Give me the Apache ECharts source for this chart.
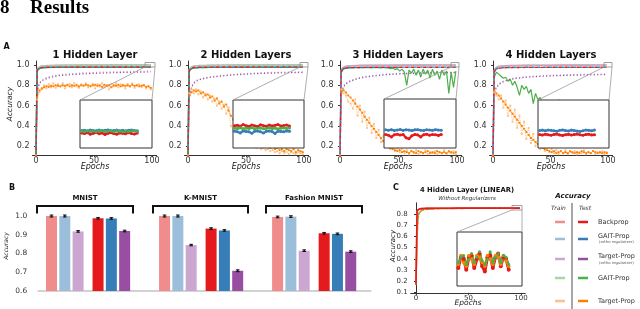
<!DOCTYPE html>
<html><head><meta charset="utf-8">
<script src="https://cdn.jsdelivr.net/npm/echarts@6/dist/echarts.min.js"></script>
<style>html,body{margin:0;padding:0;background:#fff}#c{width:640px;height:309px}</style>
</head><body><div id="c"></div>
<script>
// ---------- DATA ----------
const EPOCHS = [0,1,2,3,4,6,8,10,15,20,30,40,50,60,70,80,90,99];
const NOISY_EPOCHS = [0,1,3,5,7,9,11,13,15,17,19,21,23,25,27,29,31,33,35,37,39,41,43,45,47,49,51,53,55,57,59,61,63,65,67,69,71,73,75,77,79,81,83,85,87,89,91,93,95,97,99];
const INSET_EPOCHS = [80,81,82,83,84,85,86,87,88,89,90,91,92,93,94,95,96,97,98,99];
const X_TICKS = [0,50,100];
const Y_TICKS_A = [0.2,0.4,0.6,0.8,1.0];

// Subplot 1 (1 hidden layer)
const bpTrain1 = [0.10,0.955,0.975,0.983,0.987,0.991,0.993,0.994,0.996,0.997,0.998,0.999,0.999,0.999,1.000,1.000,1.000,1.000];
const bpTest1 = [0.10,0.945,0.963,0.970,0.973,0.976,0.977,0.978,0.979,0.980,0.980,0.981,0.981,0.981,0.981,0.981,0.981,0.981];
const gaitOTrain1 = [0.10,0.950,0.972,0.981,0.985,0.989,0.991,0.993,0.995,0.996,0.997,0.998,0.998,0.999,0.999,0.999,0.999,0.999];
const gaitOTest1 = [0.10,0.940,0.960,0.968,0.972,0.975,0.976,0.977,0.978,0.979,0.979,0.980,0.980,0.980,0.980,0.980,0.980,0.980];
const gaitTrain1 = [0.10,0.945,0.970,0.980,0.984,0.988,0.990,0.992,0.994,0.995,0.996,0.997,0.998,0.998,0.998,0.999,0.999,0.999];
const gaitTest1 = [0.10,0.935,0.958,0.967,0.971,0.974,0.975,0.976,0.977,0.978,0.978,0.979,0.979,0.979,0.979,0.979,0.979,0.979];
const tpOTrain1 = [0.10,0.72,0.79,0.83,0.845,0.86,0.87,0.88,0.895,0.905,0.915,0.922,0.927,0.931,0.934,0.936,0.938,0.940];
const tpOTest1 = [0.10,0.70,0.78,0.82,0.835,0.85,0.86,0.87,0.885,0.895,0.905,0.912,0.918,0.922,0.925,0.928,0.930,0.932];
const tpTest1 = [0.11,0.68,0.75,0.77,0.78,0.79,0.785,0.795,0.79,0.80,0.795,0.79,0.80,0.795,0.805,0.79,0.80,0.795,0.805,0.79,0.80,0.795,0.805,0.80,0.79,0.80,0.805,0.795,0.80,0.785,0.805,0.795,0.80,0.78,0.80,0.795,0.805,0.79,0.80,0.795,0.80,0.79,0.805,0.795,0.80,0.79,0.795,0.80,0.785,0.79,0.775];
const tpTrain1 = [0.11,0.66,0.73,0.76,0.80,0.77,0.81,0.78,0.82,0.775,0.81,0.79,0.82,0.77,0.80,0.815,0.78,0.82,0.79,0.775,0.81,0.80,0.82,0.78,0.795,0.815,0.77,0.81,0.79,0.82,0.78,0.805,0.76,0.815,0.79,0.82,0.78,0.81,0.795,0.77,0.815,0.79,0.82,0.775,0.80,0.81,0.78,0.805,0.77,0.79,0.76];
const inset1Red = [0.9725,0.9720,0.9728,0.9715,0.9722,0.9730,0.9718,0.9725,0.9712,0.9722,0.9728,0.9720,0.9715,0.9726,0.9722,0.9718,0.9728,0.9721,0.9716,0.9724];
const inset1Blue = [0.9745,0.9748,0.9742,0.9750,0.9746,0.9743,0.9749,0.9744,0.9747,0.9751,0.9743,0.9746,0.9749,0.9744,0.9748,0.9742,0.9747,0.9750,0.9745,0.9743];
const inset1Green = [0.9740,0.9736,0.9744,0.9738,0.9742,0.9735,0.9741,0.9746,0.9737,0.9740,0.9744,0.9736,0.9742,0.9739,0.9735,0.9743,0.9738,0.9741,0.9744,0.9737];

// Subplot 2 (2 hidden layers)
const bpTrain2 = [0.10,0.950,0.973,0.982,0.986,0.990,0.992,0.994,0.996,0.997,0.998,0.999,0.999,0.999,1.000,1.000,1.000,1.000];
const bpTest2 = [0.10,0.940,0.962,0.970,0.973,0.976,0.977,0.978,0.979,0.980,0.981,0.981,0.981,0.982,0.982,0.982,0.982,0.982];
const gaitOTrain2 = [0.10,0.945,0.970,0.980,0.984,0.988,0.990,0.992,0.994,0.996,0.997,0.998,0.998,0.998,0.999,0.999,0.999,0.999];
const gaitOTest2 = [0.10,0.935,0.958,0.966,0.970,0.973,0.975,0.976,0.977,0.978,0.978,0.978,0.979,0.979,0.979,0.979,0.979,0.979];
const gaitTrain2 = [0.10,0.940,0.968,0.978,0.983,0.987,0.989,0.991,0.993,0.995,0.996,0.997,0.997,0.998,0.998,0.998,0.998,0.998];
const gaitTest2 = [0.10,0.930,0.956,0.965,0.969,0.972,0.974,0.975,0.976,0.977,0.977,0.978,0.978,0.978,0.978,0.978,0.978,0.978];
const tpOTrain2 = [0.10,0.66,0.73,0.78,0.81,0.84,0.852,0.862,0.876,0.886,0.899,0.909,0.916,0.922,0.926,0.929,0.931,0.933];
const tpOTest2 = [0.10,0.65,0.72,0.77,0.80,0.83,0.845,0.855,0.87,0.88,0.893,0.903,0.91,0.916,0.92,0.923,0.925,0.927];
const tpTest2 = [0.11,0.70,0.73,0.75,0.74,0.75,0.72,0.73,0.70,0.71,0.68,0.69,0.65,0.67,0.62,0.64,0.59,0.61,0.55,0.50,0.46,0.42,0.38,0.36,0.33,0.31,0.29,0.27,0.26,0.24,0.23,0.22,0.21,0.20,0.19,0.20,0.18,0.19,0.17,0.18,0.16,0.17,0.15,0.17,0.16,0.15,0.17,0.14,0.16,0.15,0.14];
const tpTrain2 = [0.11,0.72,0.76,0.72,0.76,0.71,0.74,0.68,0.72,0.66,0.70,0.64,0.67,0.60,0.64,0.57,0.61,0.52,0.58,0.40,0.35,0.33,0.30,0.28,0.26,0.24,0.23,0.21,0.20,0.19,0.18,0.19,0.17,0.18,0.16,0.17,0.15,0.16,0.14,0.15,0.13,0.15,0.13,0.14,0.12,0.14,0.13,0.12,0.14,0.13,0.12];
const inset2Red = [0.9785,0.9790,0.9782,0.9795,0.9786,0.9780,0.9792,0.9785,0.9779,0.9793,0.9786,0.9781,0.9791,0.9784,0.9789,0.9795,0.9783,0.9787,0.9792,0.9784];
const inset2Green = [0.9765,0.9762,0.9768,0.9760,0.9766,0.9763,0.9769,0.9761,0.9765,0.9767,0.9760,0.9764,0.9768,0.9762,0.9766,0.9759,0.9765,0.9768,0.9763,0.9766];
const inset2Blue = [0.9740,0.9736,0.9725,0.9742,0.9738,0.9735,0.9722,0.9740,0.9741,0.9736,0.9724,0.9739,0.9742,0.9737,0.9721,0.9740,0.9738,0.9735,0.9742,0.9739];

// Subplot 3 (3 hidden layers)
const bpTrain3 = [0.10,0.945,0.970,0.980,0.985,0.989,0.991,0.993,0.995,0.997,0.998,0.998,0.999,0.999,0.999,1.000,1.000,1.000];
const bpTest3 = [0.10,0.930,0.955,0.964,0.968,0.972,0.974,0.975,0.976,0.977,0.978,0.978,0.978,0.979,0.979,0.979,0.979,0.979];
const gaitOTrain3 = [0.10,0.940,0.968,0.979,0.984,0.988,0.990,0.992,0.994,0.996,0.997,0.998,0.998,0.999,0.999,0.999,0.999,0.999];
const gaitOTest3 = [0.10,0.935,0.957,0.966,0.970,0.973,0.975,0.976,0.977,0.978,0.979,0.979,0.979,0.980,0.980,0.980,0.980,0.980];
const tpOTrain3 = [0.10,0.71,0.76,0.79,0.81,0.83,0.843,0.853,0.872,0.885,0.899,0.911,0.918,0.923,0.926,0.928,0.930,0.931];
const tpOTest3 = [0.10,0.70,0.75,0.78,0.80,0.82,0.835,0.845,0.865,0.878,0.893,0.905,0.912,0.917,0.920,0.922,0.924,0.925];
const gaitTest3 = [0.11,0.93,0.96,0.97,0.972,0.975,0.973,0.976,0.974,0.975,0.973,0.976,0.974,0.975,0.972,0.976,0.974,0.975,0.973,0.976,0.972,0.974,0.965,0.97,0.955,0.965,0.94,0.96,0.93,0.80,0.95,0.92,0.96,0.90,0.95,0.88,0.96,0.91,0.95,0.87,0.96,0.90,0.94,0.86,0.95,0.90,0.94,0.72,0.93,0.78,0.94];
const tpTest3 = [0.11,0.74,0.75,0.73,0.70,0.68,0.65,0.62,0.59,0.56,0.53,0.49,0.46,0.43,0.40,0.37,0.34,0.31,0.28,0.25,0.23,0.20,0.18,0.17,0.16,0.15,0.16,0.14,0.15,0.14,0.13,0.15,0.14,0.13,0.15,0.14,0.13,0.14,0.15,0.13,0.14,0.13,0.15,0.14,0.13,0.14,0.13,0.15,0.14,0.13,0.14];
const tpTrain3 = [0.11,0.76,0.72,0.70,0.64,0.62,0.57,0.66,0.50,0.60,0.44,0.54,0.38,0.48,0.33,0.42,0.28,0.36,0.24,0.30,0.20,0.25,0.17,0.21,0.15,0.18,0.14,0.17,0.13,0.16,0.12,0.15,0.13,0.16,0.12,0.14,0.13,0.16,0.12,0.14,0.13,0.15,0.12,0.14,0.13,0.16,0.12,0.14,0.13,0.15,0.12];
const inset3Blue = [0.9748,0.9745,0.9750,0.9743,0.9747,0.9751,0.9744,0.9749,0.9746,0.9742,0.9748,0.9750,0.9745,0.9743,0.9749,0.9747,0.9744,0.9750,0.9746,0.9745];
const inset3Red = [0.9710,0.9705,0.9690,0.9708,0.9712,0.9706,0.9710,0.9683,0.9675,0.9700,0.9711,0.9707,0.9690,0.9709,0.9712,0.9705,0.9710,0.9708,0.9703,0.9711];

// Subplot 4 (4 hidden layers)
const bpTrain4 = [0.10,0.940,0.966,0.978,0.983,0.988,0.990,0.992,0.994,0.996,0.997,0.998,0.998,0.999,0.999,0.999,1.000,1.000];
const bpTest4 = [0.10,0.925,0.950,0.960,0.965,0.970,0.972,0.974,0.975,0.976,0.977,0.977,0.978,0.978,0.978,0.978,0.978,0.978];
const gaitOTrain4 = [0.10,0.935,0.964,0.977,0.982,0.987,0.989,0.991,0.993,0.995,0.997,0.998,0.998,0.998,0.999,0.999,0.999,0.999];
const gaitOTest4 = [0.10,0.930,0.954,0.963,0.967,0.971,0.973,0.975,0.976,0.977,0.978,0.979,0.979,0.979,0.979,0.979,0.979,0.979];
const tpOTrain4 = [0.10,0.71,0.76,0.79,0.80,0.82,0.836,0.846,0.864,0.874,0.886,0.894,0.899,0.903,0.906,0.908,0.910,0.911];
const tpOTest4 = [0.10,0.70,0.75,0.78,0.795,0.815,0.83,0.84,0.858,0.868,0.880,0.888,0.893,0.897,0.900,0.902,0.904,0.905];
const gaitTest4 = [0.11,0.88,0.93,0.91,0.89,0.87,0.88,0.84,0.86,0.80,0.84,0.78,0.70,0.80,0.76,0.79,0.72,0.76,0.62,0.72,0.66,0.68,0.60,0.64,0.58,0.62,0.56,0.60,0.54,0.66,0.50,0.52,0.48,0.50,0.45,0.47,0.42,0.44,0.40,0.41,0.37,0.38,0.35,0.36,0.33,0.34,0.31,0.32,0.29,0.30,0.27];
const tpTest4 = [0.11,0.75,0.72,0.70,0.67,0.64,0.61,0.58,0.55,0.52,0.49,0.46,0.43,0.40,0.37,0.34,0.31,0.28,0.26,0.24,0.22,0.20,0.18,0.17,0.16,0.15,0.14,0.15,0.13,0.14,0.15,0.13,0.14,0.13,0.15,0.14,0.13,0.14,0.13,0.15,0.14,0.13,0.14,0.13,0.15,0.14,0.13,0.14,0.13,0.14,0.13];
const tpTrain4 = [0.11,0.73,0.70,0.66,0.70,0.58,0.65,0.50,0.60,0.44,0.56,0.38,0.50,0.32,0.44,0.27,0.38,0.23,0.32,0.20,0.28,0.17,0.23,0.15,0.19,0.14,0.17,0.13,0.16,0.12,0.15,0.13,0.16,0.12,0.14,0.13,0.15,0.12,0.14,0.13,0.16,0.12,0.14,0.13,0.15,0.12,0.14,0.13,0.15,0.12,0.14];
const inset4Blue = [0.9745,0.9749,0.9743,0.9750,0.9747,0.9744,0.9740,0.9748,0.9751,0.9745,0.9742,0.9749,0.9746,0.9741,0.9738,0.9744,0.9750,0.9747,0.9743,0.9749];
const inset4Red = [0.9712,0.9708,0.9715,0.9710,0.9706,0.9713,0.9716,0.9709,0.9705,0.9711,0.9714,0.9708,0.9712,0.9716,0.9710,0.9706,0.9712,0.9715,0.9709,0.9711];

// Panel B (final accuracy)
const DATASETS = ['MNIST','K-MNIST','Fashion MNIST'];
const METHODS = ['Backprop','GAIT-Prop (ortho)','Target-Prop (ortho)'];
const trainAcc = [[1.000,1.000,0.918],[1.000,1.000,0.845],[0.995,0.997,0.815]];
const testAcc  = [[0.988,0.987,0.920],[0.933,0.923,0.708],[0.908,0.905,0.810]];
const trainErr = [[0.001,0.001,0.002],[0.001,0.001,0.004],[0.002,0.002,0.002]];
const testErr  = [[0.002,0.002,0.002],[0.002,0.002,0.005],[0.002,0.002,0.002]];
const Y_TICKS_B = [0.6,0.7,0.8,0.9,1.0];

// Panel C (4 hidden layer, linear)
const EPOCHS_C = [0,1,2,3,4,5,6,8,10,15,20,30,40,50,60,70,80,90,99];
const bpTrainC = [0.17,0.825,0.840,0.845,0.848,0.849,0.850,0.851,0.852,0.853,0.853,0.854,0.854,0.854,0.855,0.855,0.855,0.855,0.855];
const bpTestC  = [0.17,0.820,0.838,0.843,0.846,0.847,0.848,0.849,0.850,0.850,0.851,0.851,0.852,0.852,0.852,0.852,0.852,0.852,0.852];
const tpTrainC = [0.17,0.600,0.770,0.810,0.825,0.833,0.838,0.842,0.844,0.847,0.849,0.850,0.851,0.852,0.852,0.852,0.852,0.852,0.852];
const tpTestC  = [0.17,0.580,0.760,0.800,0.820,0.830,0.835,0.840,0.842,0.845,0.847,0.848,0.849,0.850,0.850,0.850,0.850,0.850,0.850];
const gaitTestC= [0.17,0.620,0.780,0.810,0.825,0.833,0.837,0.841,0.843,0.846,0.848,0.849,0.850,0.850,0.851,0.851,0.851,0.851,0.851];
const insetCRed = [0.840,0.846,0.845,0.839,0.846,0.847,0.840,0.845,0.848,0.841,0.838,0.846,0.847,0.840,0.846,0.848,0.841,0.846,0.845,0.839];
const insetCOrange = [0.842,0.847,0.843,0.841,0.847,0.845,0.842,0.847,0.846,0.843,0.841,0.847,0.845,0.842,0.847,0.846,0.842,0.847,0.844,0.841];
const insetCGreen = [0.843,0.846,0.847,0.842,0.845,0.848,0.843,0.846,0.849,0.844,0.842,0.845,0.849,0.843,0.846,0.848,0.843,0.847,0.846,0.842];
const Y_TICKS_C = [0.1,0.2,0.3,0.4,0.5,0.6,0.7,0.8];

// ---------- CHART ----------
const COL = {red:'#e41a1c', redL:'#f18c8d', blue:'#377eb8', blueL:'#9bbfdb', purple:'#984ea3', purpleL:'#cba6d1', green:'#4daf4a', greenL:'#a6d7a4', orange:'#ff7f00', orangeL:'#ffbf80'};
const FF = 'DejaVu Sans';
const AX = '#333';
const grids = [], xAxes = [], yAxes = [], series = [];
function addGrid(g, x, y){ grids.push(g); const i = grids.length-1; x.gridIndex = i; y.gridIndex = i; xAxes.push(x); yAxes.push(y); return i; }
const hidden = {axisLine:{show:false}, axisTick:{show:false}, axisLabel:{show:false}, splitLine:{show:false}};

function mainA(left, width){
  return addGrid({left, top:61, width, height:94.2},
    {type:'value', min:-3, max:104, splitLine:{show:false},
     axisLine:{show:true, lineStyle:{color:AX, width:1}},
     axisTick:{show:true, length:2, customValues:X_TICKS, lineStyle:{color:AX}},
     axisLabel:{customValues:X_TICKS, fontSize:8, color:AX, margin:2, fontFamily:FF}},
    {type:'value', min:0.11, max:1.04, splitLine:{show:false},
     axisLine:{show:true, lineStyle:{color:AX, width:1}},
     axisTick:{show:true, length:2, customValues:Y_TICKS_A, lineStyle:{color:AX}},
     axisLabel:{customValues:Y_TICKS_A, formatter:v=>v.toFixed(1), fontSize:8, color:AX, margin:3, fontFamily:FF}});
}
function insetGrid(left, top, width, height, ymin, ymax){
  return addGrid({left, top, width, height, show:true, backgroundColor:'#fff', borderColor:'#333', borderWidth:1, z:10},
    Object.assign({type:'value', min:79.5, max:104, z:10}, hidden),
    Object.assign({type:'value', min:ymin, max:ymax, z:10}, hidden));
}
function line(gi, xs, ys, color, extra){
  const s = {type:'line', xAxisIndex:gi, yAxisIndex:gi, data:xs.map((x,i)=>[x, ys[i]]),
    symbol:'none', lineStyle:{color, width:1.2}, itemStyle:{color}, z:2, animation:false, silent:true};
  series.push(Object.assign(s, extra||{}));
}
function topCurves(gi, d){
  line(gi, EPOCHS, d.bpTrain, COL.redL, {lineStyle:{color:COL.redL, width:1.6}});
  line(gi, EPOCHS, d.gaitOTrain, COL.blueL, {lineStyle:{color:COL.blueL, width:1.6, type:[3,2]}});
  if (d.gaitTrain) line(gi, EPOCHS, d.gaitTrain, COL.greenL, {lineStyle:{color:COL.greenL, width:1.6, type:[3,2], dashOffset:2}});
  if (d.gaitTest) line(gi, EPOCHS, d.gaitTest, COL.green, {lineStyle:{color:COL.green, width:1.4}});
  line(gi, EPOCHS, d.gaitOTest, COL.blue, {lineStyle:{color:COL.blue, width:1.4, type:[3,3], dashOffset:3}});
  line(gi, EPOCHS, d.bpTest, COL.red, {lineStyle:{color:COL.red, width:1.4, type:[3,3]}});
}
function purple(gi, tr, te){
  line(gi, EPOCHS, tr, COL.purpleL, {lineStyle:{color:COL.purpleL, width:1.2, type:[1.2,2.2]}});
  line(gi, EPOCHS, te, COL.purple, {lineStyle:{color:COL.purple, width:1.2, type:[1.2,2.2], dashOffset:1}});
}
function noisy(gi, ys, color, extra){
  line(gi, NOISY_EPOCHS, ys, color, Object.assign({symbol:'rect', symbolSize:1.9, showSymbol:true, showAllSymbol:true,
    lineStyle:{color, width:0.8, type:[1.5,1]}}, extra||{}));
}
function insetLine(gi, ys, color){
  line(gi, INSET_EPOCHS, ys, color, {z:12, symbol:'circle', symbolSize:3, showSymbol:true, showAllSymbol:true, lineStyle:{color, width:2.2}});
}

// Subplot 1
const g1 = mainA(32.5, 124.1);
noisy(g1, tpTrain1, COL.orangeL); noisy(g1, tpTest1, COL.orange);
purple(g1, tpOTrain1, tpOTest1);
topCurves(g1, {bpTrain:bpTrain1, bpTest:bpTest1, gaitOTrain:gaitOTrain1, gaitOTest:gaitOTest1, gaitTrain:gaitTrain1, gaitTest:gaitTest1});
const i1 = insetGrid(80, 100, 72, 48, 0.96, 1.0);
insetLine(i1, inset1Red, COL.red); insetLine(i1, inset1Blue, COL.blue); insetLine(i1, inset1Green, COL.green);

// Subplot 2
const g2 = mainA(184.5, 124.1);
noisy(g2, tpTrain2, COL.orangeL); noisy(g2, tpTest2, COL.orange);
purple(g2, tpOTrain2, tpOTest2);
topCurves(g2, {bpTrain:bpTrain2, bpTest:bpTest2, gaitOTrain:gaitOTrain2, gaitOTest:gaitOTest2, gaitTrain:gaitTrain2, gaitTest:gaitTest2});
const i2 = insetGrid(233, 100, 71, 48, 0.96, 1.0);
insetLine(i2, inset2Blue, COL.blue); insetLine(i2, inset2Red, COL.red); insetLine(i2, inset2Green, COL.green);

// Subplot 3
const g3 = mainA(336.5, 125.2);
noisy(g3, tpTrain3, COL.orangeL); noisy(g3, tpTest3, COL.orange);
purple(g3, tpOTrain3, tpOTest3);
noisy(g3, gaitTest3, COL.green, {symbol:'none', lineStyle:{color:COL.green, width:1.2}});
topCurves(g3, {bpTrain:bpTrain3, bpTest:bpTest3, gaitOTrain:gaitOTrain3, gaitOTest:gaitOTest3});
const i3 = insetGrid(384, 99, 72, 49, 0.96, 1.0);
insetLine(i3, inset3Red, COL.red); insetLine(i3, inset3Blue, COL.blue);

// Subplot 4
const g4 = mainA(489.55, 123.05);
noisy(g4, tpTrain4, COL.orangeL); noisy(g4, tpTest4, COL.orange);
noisy(g4, gaitTest4, COL.green, {symbol:'none', lineStyle:{color:COL.green, width:1.2}});
purple(g4, tpOTrain4, tpOTest4);
topCurves(g4, {bpTrain:bpTrain4, bpTest:bpTest4, gaitOTrain:gaitOTrain4, gaitOTest:gaitOTest4});
const i4 = insetGrid(538, 100, 71, 48, 0.96, 1.0);
insetLine(i4, inset4Red, COL.red); insetLine(i4, inset4Blue, COL.blue);

// Panel B
const gb = addGrid({left:38.2, top:210.4, width:332.5, height:80.6},
  {type:'value', min:-1, max:24, splitLine:{show:false}, axisTick:{show:false}, axisLabel:{show:false},
   axisLine:{show:true, lineStyle:{color:'#c4c4c4', width:1.5}}},
  {type:'value', min:0.6, max:1.03, splitLine:{show:false}, axisLine:{show:false}, axisTick:{show:false},
   axisLabel:{customValues:Y_TICKS_B, formatter:v=>v.toFixed(1), fontSize:7.5, color:AX, margin:11, fontFamily:FF}});
const trainCols = [COL.redL, COL.blueL, COL.purpleL], testCols = [COL.red, COL.blue, COL.purple];
const barItems = [], errItems = [];
DATASETS.forEach((ds, g) => {
  METHODS.forEach((m, k) => {
    const xt = g*8.5 + k, xs = g*8.5 + 3.5 + k;
    barItems.push({value:[xt, trainAcc[g][k]], itemStyle:{color:trainCols[k]}});
    barItems.push({value:[xs, testAcc[g][k]], itemStyle:{color:testCols[k]}});
    errItems.push([xt, trainAcc[g][k], trainErr[g][k]]);
    errItems.push([xs, testAcc[g][k], testErr[g][k]]);
  });
});
series.push({type:'bar', xAxisIndex:gb, yAxisIndex:gb, data:barItems, barWidth:11, animation:false, silent:true, z:2});
series.push({type:'custom', xAxisIndex:gb, yAxisIndex:gb, data:errItems, animation:false, silent:true, z:5,
  renderItem:(p, api) => {
    const x = api.value(0), y = api.value(1), e = api.value(2);
    const a = api.coord([x, y+e]), b = api.coord([x, y-e]);
    const top = Math.min(a[1], b[1]-1.2), bot = Math.max(b[1], a[1]+1.2);
    return {type:'group', children:[
      {type:'line', shape:{x1:a[0], y1:top, x2:a[0], y2:bot}, style:{stroke:'#111', lineWidth:1.5}},
      {type:'line', shape:{x1:a[0]-1.8, y1:top, x2:a[0]+1.8, y2:top}, style:{stroke:'#111', lineWidth:1}},
      {type:'line', shape:{x1:a[0]-1.8, y1:bot, x2:a[0]+1.8, y2:bot}, style:{stroke:'#111', lineWidth:1}}]};
  }});

// Panel C
const gc = addGrid({left:410.75, top:202.8, width:114.45, height:90.1},
  {type:'value', min:-5, max:104, splitLine:{show:false},
   axisLine:{show:true, lineStyle:{color:AX, width:1}},
   axisTick:{show:true, length:2, customValues:X_TICKS, lineStyle:{color:AX}},
   axisLabel:{customValues:X_TICKS, fontSize:7, color:AX, margin:2, fontFamily:FF}},
  {type:'value', min:0.095, max:0.9, splitLine:{show:false},
   axisLine:{show:true, lineStyle:{color:AX, width:1}},
   axisTick:{show:true, length:2, customValues:Y_TICKS_C, lineStyle:{color:AX}},
   axisLabel:{customValues:Y_TICKS_C, formatter:v=>v.toFixed(1), fontSize:7, color:AX, margin:3, fontFamily:FF}});
line(gc, EPOCHS_C, bpTrainC, COL.redL, {lineStyle:{color:COL.redL, width:1.6}});
line(gc, EPOCHS_C, tpTrainC, COL.orangeL, {lineStyle:{color:COL.orangeL, width:1.6, type:[3,2]}});
line(gc, EPOCHS_C, gaitTestC, COL.green, {lineStyle:{color:COL.green, width:1.4, type:[3,3], dashOffset:3}});
line(gc, EPOCHS_C, tpTestC, COL.orange, {lineStyle:{color:COL.orange, width:1.4, type:[3,3]}});
line(gc, EPOCHS_C, bpTestC, COL.red, {lineStyle:{color:COL.red, width:1.6}});
const ic = addGrid({left:457, top:232, width:65, height:54, show:true, backgroundColor:'#fff', borderColor:'#333', borderWidth:1, z:10},
  Object.assign({type:'value', min:79.5, max:104, z:10}, hidden),
  Object.assign({type:'value', min:0.83, max:0.86, z:10}, hidden));
line(ic, INSET_EPOCHS, insetCRed, COL.red, {z:12, symbol:'circle', symbolSize:4, showSymbol:true, showAllSymbol:true, lineStyle:{color:COL.red, width:3}});
line(ic, INSET_EPOCHS, insetCOrange, COL.orange, {z:12, symbol:'circle', symbolSize:3.5, showSymbol:true, showAllSymbol:true, lineStyle:{color:COL.orange, width:2.5}});
line(ic, INSET_EPOCHS, insetCGreen, COL.green, {z:12, symbol:'circle', symbolSize:3, showSymbol:true, showAllSymbol:true, lineStyle:{color:COL.green, width:2}});

// ---------- GRAPHICS (text & decorations) ----------
const G = [];
function txt(text, x, y, size, opts){
  G.push({type:'text', x, y, z:30, silent:true, style:Object.assign({text, x:0, y:0, fill:'#111', fontSize:size, fontFamily:FF,
    textAlign:'center', textVerticalAlign:'middle'}, opts||{})});
}
function rtxt(text, x, y, size, opts){
  G.push({type:'text', x, y, rotation:Math.PI/2, z:30, silent:true, style:Object.assign({text, x:0, y:0, fill:'#222', fontSize:size, fontFamily:FF,
    fontStyle:'italic', textAlign:'center', textVerticalAlign:'middle'}, opts||{})});
}
function seg(x1,y1,x2,y2,stroke,w,z){ G.push({type:'line', z:z||20, silent:true, shape:{x1,y1,x2,y2}, style:{stroke, lineWidth:w}}); }
function poly(pts, stroke, w){ G.push({type:'polyline', z:20, silent:true, shape:{points:pts}, style:{stroke, lineWidth:w, fill:null}}); }
function rect(x,y,w,h){ G.push({type:'rect', z:20, silent:true, shape:{x,y,width:w,height:h}, style:{stroke:'#888', lineWidth:0.8, fill:null}}); }

// header
txt('8', 0, 8, 19, {fontFamily:'Liberation Serif', fontWeight:'bold', fill:'#000', textAlign:'left'});
txt('Results', 30, 8, 19, {fontFamily:'Liberation Serif', fontWeight:'bold', fill:'#000', textAlign:'left'});

// Panel A
txt('A', 6.5, 47, 8, {fontWeight:'bold'});
txt('1 Hidden Layer', 95, 55, 10, {fontWeight:'bold'});
txt('2 Hidden Layers', 246, 55, 10, {fontWeight:'bold'});
txt('3 Hidden Layers', 398, 55, 10, {fontWeight:'bold'});
txt('4 Hidden Layers', 551, 55, 10, {fontWeight:'bold'});
[95, 246, 398, 551].forEach(x => txt('Epochs', x, 166.5, 8, {fontStyle:'italic', fill:'#222'}));
rtxt('Accuracy', 10, 104, 7.5);
// zoom indicators and connectors
[[145,62.5,10,4.5, 80,100,152,100],[300,62.5,8,4.5, 233,100,304,100],[451,62.5,8,4.5, 384,99,456,99],[604,62.5,8,4.5, 538,100,609,100]].forEach(a => {
  rect(a[0],a[1],a[2],a[3]);
  seg(a[4],a[5], a[0], a[1]+a[3], '#999', 0.8);
  seg(a[6],a[7], a[0]+a[2], a[1]+a[3], '#999', 0.8);
});

// Panel B
txt('B', 12, 188, 8, {fontWeight:'bold'});
rtxt('Accuracy', 6, 246, 6);
[[37,133,'MNIST'],[153,248,'K-MNIST'],[266,362,'Fashion MNIST']].forEach(b => {
  poly([[b[0],213.5],[b[0],206],[b[1],206],[b[1],213.5]], '#111', 2);
  txt(b[2], (b[0]+b[1])/2, 198, 7, {fontWeight:'bold'});
});

// Panel C
txt('C', 396, 188, 8, {fontWeight:'bold'});
txt('4 Hidden Layer (LINEAR)', 467, 190, 6.8, {fontWeight:'bold'});
txt('Without Regularizers', 467, 199, 5.5, {fontStyle:'italic', fill:'#333'});
txt('Epochs', 468, 303.5, 7.5, {fontStyle:'italic', fill:'#222'});
rtxt('Accuracy', 393, 246, 7);
rect(512, 205.5, 10, 4.5);
seg(457, 232, 512, 210, '#999', 0.8);
seg(522, 232, 522, 210, '#999', 0.8);

// Legend
txt('Accuracy', 573, 196, 7, {fontWeight:'bold', fontStyle:'italic'});
txt('Train', 558.5, 208, 6, {fontStyle:'italic', fill:'#333'});
txt('Test', 585, 208, 6, {fontStyle:'italic', fill:'#333'});
seg(572, 203, 572, 309, '#888', 1.5, 20);
const LEG = [
  {y:222, tr:COL.redL, te:COL.red, name:'Backprop', sub:null, ty:222},
  {y:239, tr:COL.blueL, te:COL.blue, name:'GAIT-Prop', sub:'(ortho regularizer)', ty:236},
  {y:259, tr:COL.purpleL, te:COL.purple, name:'Target-Prop', sub:'(ortho regularizer)', ty:256.5},
  {y:278, tr:COL.greenL, te:COL.green, name:'GAIT-Prop', sub:null, ty:278},
  {y:301, tr:COL.orangeL, te:COL.orange, name:'Target-Prop', sub:null, ty:301}
];
LEG.forEach(l => {
  seg(555, l.y, 565, l.y, l.tr, 2.5, 21);
  seg(578, l.y, 588, l.y, l.te, 2.5, 21);
  txt(l.name, 598, l.ty, 6.5, {textAlign:'left', fill:'#333'});
  if (l.sub) txt(l.sub, 599, l.ty+6.5, 3.8, {textAlign:'left', fill:'#555'});
});

const chart = echarts.init(document.getElementById('c'), null, {renderer:'canvas'});
chart.setOption({backgroundColor:'#fff', animation:false, grid:grids, xAxis:xAxes, yAxis:yAxes, series, graphic:{elements:G}});
</script></body></html>
